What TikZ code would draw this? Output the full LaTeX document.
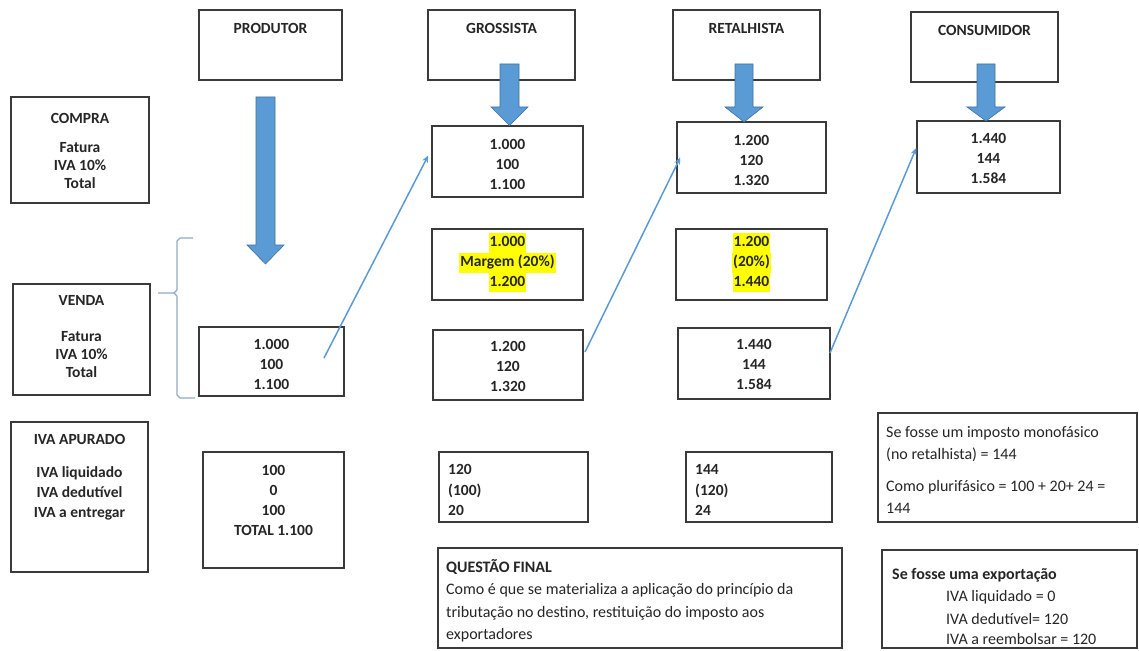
\documentclass[tikz,border=0pt]{standalone}
\usepackage{fontspec}
\setmainfont{Carlito}
\usetikzlibrary{arrows.meta,fit}
\definecolor{arrowblue}{HTML}{5B9BD5}
\definecolor{arrowedge}{HTML}{41719C}
\definecolor{boxline}{HTML}{3A3A3A}
\definecolor{bracegray}{HTML}{8FAAC8}
\definecolor{hl}{HTML}{FFFF00}
\definecolor{ink}{HTML}{262626}
\tikzset{
  box/.style={draw=boxline, line width=1.5pt, inner sep=0pt},
  txt/.style={font=\fontsize{15.5}{20}\selectfont\bfseries, text=ink, inner sep=0pt, align=center},
  lst/.style={font=\fontsize{15.5}{18}\selectfont\bfseries, text=ink, inner sep=0pt, align=center},
  ltxt/.style={font=\fontsize{15.5}{20.5}\selectfont\bfseries, text=ink, inner sep=0pt, align=left, anchor=west},
  note/.style={font=\fontsize{16}{22}\selectfont, text=ink, inner sep=0pt, align=left, anchor=west},
  hlbox/.style={font=\fontsize{15.5}{20}\selectfont\bfseries, text=ink, fill=hl, inner xsep=1pt, inner ysep=0pt, text height=13.5pt, text depth=6.2pt},
  bigarrow/.style={fill=arrowblue, draw=arrowedge, line width=0.6pt, line join=miter},
  conn/.style={draw=arrowblue, line width=1.5pt, -{Stealth[length=7pt,width=6pt]}},
  brace/.style={draw=bracegray, line width=1.1pt, line join=round}
}
\begin{document}
\begin{tikzpicture}[x=1pt,y=-1pt]
\useasboundingbox[fill=white] (0,0) rectangle (1139,650);

% column headers
\node[box, fit={(199,10) (342,80)}] (prod) {};
\node[txt] (prodT) at (270.5,28) {PRODUTOR};
\node[box, fit={(428,10) (575,80)}] (gros) {};
\node[txt] (grosT) at (501.5,28) {GROSSISTA};
\node[box, fit={(673,10) (820,80)}] (ret) {};
\node[txt] (retT) at (746.5,28) {RETALHISTA};
\node[box, fit={(911,12) (1058,82)}] (cons) {};
\node[txt] (consT) at (984.5,30) {CONSUMIDOR};

% row labels
\node[box, fit={(11,97) (149,203)}] (compra) {};
\node[txt] (compraT) at (80,118) {COMPRA};
\node[lst] (compraB) at (80,166) {Fatura\\IVA 10\%\\Total};
\node[box, fit={(13,284) (150,395)}] (venda) {};
\node[txt] (vendaT) at (81.5,300) {VENDA};
\node[lst] (vendaB) at (81.5,355) {Fatura\\IVA 10\%\\Total};
\node[box, fit={(11,422) (148,572)}] (apur) {};
\node[txt] (apurT) at (79.5,439) {IVA APURADO};
\node[txt] (apurB) at (79.5,493) {IVA liquidado\\IVA dedutível\\IVA a entregar};

% produtor
\node[box, fit={(199,327) (344,396)}] (pv) {};
\node[txt] (pvT) at (271.5,364) {1.000\\100\\1.100};
\node[box, fit={(203,452) (344,568)}] (pi) {};
\node[txt] (piT) at (273.5,500) {100\\0\\100\\TOTAL 1.100};

% grossista
\node[box, fit={(432,126) (583,197)}] (gp) {};
\node[txt] (gpT) at (507.5,164) {1.000\\100\\1.100};
\node[box, fit={(432,229) (583,300)}] (gm) {};
\node[hlbox] (gm1) at (507.5,243) {1.000};
\node[hlbox] (gm2) at (507.5,262.7) {Margem (20\%)};
\node[hlbox] (gm3) at (507.5,282.4) {1.200};
\node[box, fit={(433,330) (583,400)}] (gv) {};
\node[txt] (gvT) at (508,366) {1.200\\120\\1.320};
\node[box, fit={(439,452) (588,522)}] (gi) {};
\node[ltxt] (giT) at (448,490) {120\\(100)\\20};

% retalhista
\node[box, fit={(677,122) (826,193)}] (rp) {};
\node[txt] (rpT) at (751.5,160) {1.200\\120\\1.320};
\node[box, fit={(676,229) (827,300)}] (rm) {};
\node[hlbox] (rm1) at (751.5,243) {1.200};
\node[hlbox] (rm2) at (751.5,262.7) {(20\%)};
\node[hlbox] (rm3) at (751.5,282.4) {1.440};
\node[box, fit={(678,328) (830,399)}] (rv) {};
\node[txt] (rvT) at (754,364) {1.440\\144\\1.584};
\node[box, fit={(686,452) (832,522)}] (ri) {};
\node[ltxt] (riT) at (695,490) {144\\(120)\\24};

% consumidor
\node[box, fit={(917,121) (1060,193)}] (cp) {};
\node[txt] (cpT) at (988.5,158) {1.440\\144\\1.584};

% notes
\node[box, fit={(878,413) (1137,522)}] (mono) {};
\node[note] (mono1) at (886,433) {Se fosse um imposto monofásico};
\node[note] (mono2) at (886,455) {(no retalhista) = 144};
\node[note] (mono3) at (886,487) {Como plurifásico = 100 + 20+ 24 =};
\node[note] (mono4) at (886,508) {144};

\node[box, fit={(438,548) (842,648)}] (quest) {};
\node[note, font=\fontsize{16}{22}\selectfont\bfseries] (quest1) at (446,567) {QUESTÃO FINAL};
\node[note] (quest2) at (446,590) {Como é que se materializa a aplicação do princípio da};
\node[note] (quest3) at (446,613) {tributação no destino, restituição do imposto aos};
\node[note] (quest4) at (446,635) {exportadores};

\node[box, fit={(882,550) (1137,648)}] (exp) {};
\node[note, font=\fontsize{16}{22}\selectfont\bfseries] (exp1) at (892,575) {Se fosse uma exportação};
\node[note] (exp2) at (946,597) {IVA liquidado = 0};
\node[note] (exp3) at (946,619) {IVA dedutível= 120};
\node[note] (exp4) at (946,639) {IVA a reembolsar = 120};

% block arrows
\draw[bigarrow] (256,97) -- (275,97) -- (275,245) -- (284,245) -- (265.5,264) -- (247,245) -- (256,245) -- cycle;
\draw[bigarrow] (500,64) -- (519,64) -- (519,107) -- (528,107) -- (509.5,125.5) -- (491,107) -- (500,107) -- cycle;
\draw[bigarrow] (735,64) -- (753,64) -- (753,107) -- (763,107) -- (744,122) -- (725,107) -- (735,107) -- cycle;
\draw[bigarrow] (977,64) -- (995,64) -- (995,107) -- (1005,107) -- (986,121) -- (967,107) -- (977,107) -- cycle;

% brace grouping the sale row
\draw[brace] (193,238) -- (180,238) -- (177,241) -- (177,290) -- (174,293) -- (158,293)
             (174,293) -- (177,296) -- (177,395) -- (180,398) -- (195,398);

% flow of goods between stages
\coordinate (c1s) at (324,358);
\coordinate (c2s) at (585,352);
\coordinate (c3s) at (830,353);
\draw[conn] (c1s) -- ([xshift=-3pt,yshift=6pt]gp.west);
\draw[conn] (c2s) -- ([xshift=4pt]rp.west);
\draw[conn] (c3s) -- ([yshift=9pt]cp.west);
\end{tikzpicture}
\end{document}
